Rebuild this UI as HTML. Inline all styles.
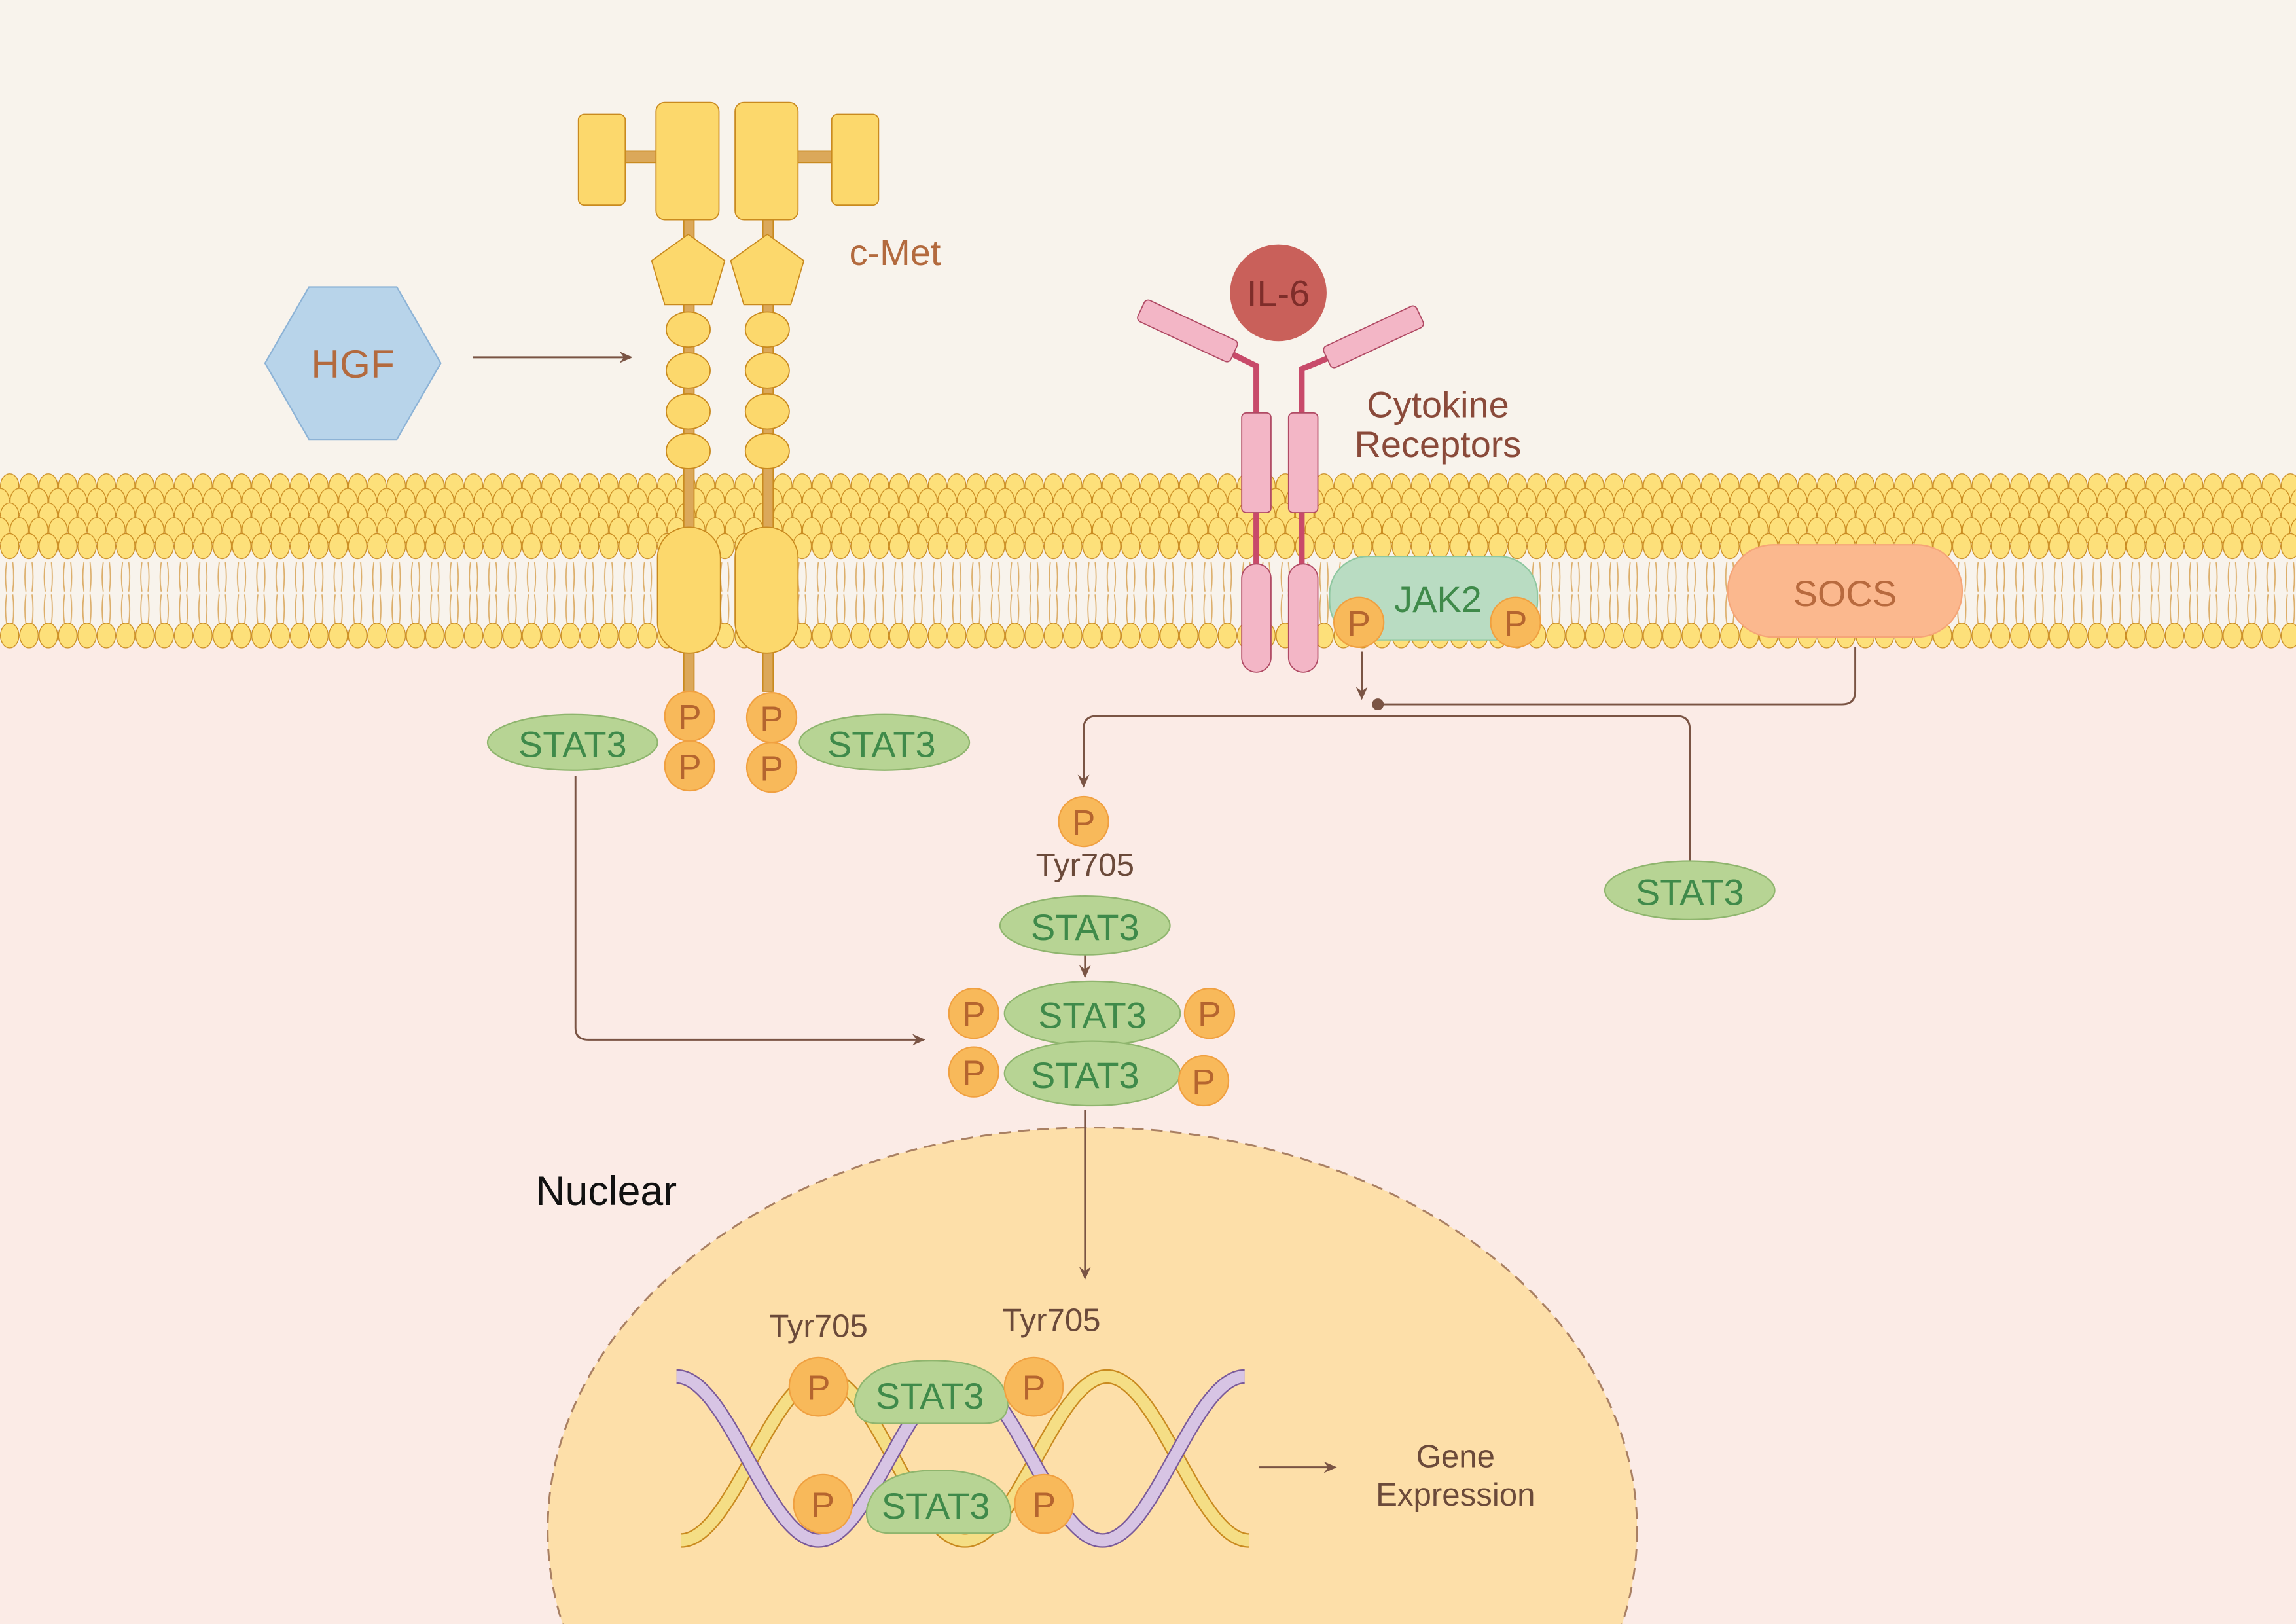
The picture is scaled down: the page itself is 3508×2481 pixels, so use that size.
<!DOCTYPE html>
<html><head><meta charset="utf-8"><style>
html,body{margin:0;padding:0;width:3508px;height:2481px;overflow:hidden;background:#f8f3ec}
svg{display:block}
text{font-family:"Liberation Sans",sans-serif}
</style></head><body>
<svg width="3508" height="2481" viewBox="0 0 1568 1109" preserveAspectRatio="none" xmlns="http://www.w3.org/2000/svg">
<defs>
<pattern id="r1" x="0" y="322" width="13.2" height="20" patternUnits="userSpaceOnUse"><ellipse cx="6.6" cy="10" rx="6.3" ry="8.5" fill="#fde07a" stroke="#c98a1f" stroke-width="0.6"/></pattern>
<pattern id="r2" x="6.6" y="332" width="13.2" height="20" patternUnits="userSpaceOnUse"><ellipse cx="6.6" cy="10" rx="6.3" ry="8.5" fill="#fde07a" stroke="#c98a1f" stroke-width="0.6"/></pattern>
<pattern id="r3" x="0" y="342" width="13.2" height="20" patternUnits="userSpaceOnUse"><ellipse cx="6.6" cy="10" rx="6.3" ry="8.5" fill="#fde07a" stroke="#c98a1f" stroke-width="0.6"/></pattern>
<pattern id="r4" x="6.6" y="352" width="13.2" height="20" patternUnits="userSpaceOnUse"><ellipse cx="6.6" cy="10" rx="6.3" ry="8.5" fill="#fde07a" stroke="#c98a1f" stroke-width="0.6"/></pattern>
<pattern id="r5" x="0" y="363" width="13.2" height="20" patternUnits="userSpaceOnUse"><ellipse cx="6.6" cy="10" rx="6.3" ry="8.5" fill="#fde07a" stroke="#c98a1f" stroke-width="0.6"/></pattern>
<pattern id="r6" x="0" y="424" width="13.2" height="20" patternUnits="userSpaceOnUse"><ellipse cx="6.6" cy="10" rx="6.3" ry="8.5" fill="#fde07a" stroke="#c98a1f" stroke-width="0.6"/></pattern>
<pattern id="tl" x="0" y="384" width="13.2" height="42" patternUnits="userSpaceOnUse"><path d="M4.5,0 Q3,10 4.5,20 M8.7,0 Q10,10 8.7,20 M4.5,22 Q3,32 4.5,42 M8.7,22 Q10,32 8.7,42" stroke="#dcae6a" stroke-width="0.8" fill="none"/></pattern>
<marker id="ar" markerWidth="10" markerHeight="10" refX="8" refY="5" orient="auto" markerUnits="userSpaceOnUse"><path d="M0,1 L9,5 L0,9 L3,5z" fill="#7a5444"/></marker>
</defs>
<rect x="0" y="0" width="1568" height="440" fill="#f8f3ec"/>
<rect x="0" y="440" width="1568" height="669" fill="#fbebe6"/>
<!-- membrane -->
<rect x="0" y="384" width="1568" height="42" fill="url(#tl)"/>
<rect x="0" y="322" width="1568" height="20" fill="url(#r1)"/>
<rect x="0" y="332" width="1568" height="20" fill="url(#r2)"/>
<rect x="0" y="342" width="1568" height="20" fill="url(#r3)"/>
<rect x="0" y="352" width="1568" height="20" fill="url(#r4)"/>
<rect x="0" y="363" width="1568" height="20" fill="url(#r5)"/>
<rect x="0" y="424" width="1568" height="20" fill="url(#r6)"/>
<!-- nucleus -->
<ellipse cx="746" cy="1045" rx="372" ry="275" fill="#fddfa9" stroke="#a98063" stroke-width="1.3" stroke-dasharray="8,5"/>
<text x="414" y="823" font-size="28" text-anchor="middle" fill="#111">Nuclear</text>
<!-- c-Met -->
<g stroke="#c98a1f" stroke-width="0.8">
<rect x="467" y="140" width="7" height="332" fill="#dba85a"/>
<rect x="521" y="140" width="7" height="332" fill="#dba85a"/>
<rect x="420" y="103" width="40" height="8" fill="#dba85a"/>
<rect x="535" y="103" width="40" height="8" fill="#dba85a"/>
<rect x="395" y="78" width="32" height="62" rx="4" fill="#fcd86c"/>
<rect x="568" y="78" width="32" height="62" rx="4" fill="#fcd86c"/>
<rect x="448" y="70" width="43" height="80" rx="6" fill="#fcd86c"/>
<rect x="502" y="70" width="43" height="80" rx="6" fill="#fcd86c"/>
<polygon points="470,160 495,178 486,208 454,208 445,178" fill="#fcd86c"/>
<polygon points="524,160 549,178 540,208 508,208 499,178" fill="#fcd86c"/>
<ellipse cx="470" cy="225" rx="15" ry="12" fill="#fcd86c"/><ellipse cx="524" cy="225" rx="15" ry="12" fill="#fcd86c"/>
<ellipse cx="470" cy="253" rx="15" ry="12" fill="#fcd86c"/><ellipse cx="524" cy="253" rx="15" ry="12" fill="#fcd86c"/>
<ellipse cx="470" cy="281" rx="15" ry="12" fill="#fcd86c"/><ellipse cx="524" cy="281" rx="15" ry="12" fill="#fcd86c"/>
<ellipse cx="470" cy="308" rx="15" ry="12" fill="#fcd86c"/><ellipse cx="524" cy="308" rx="15" ry="12" fill="#fcd86c"/>
<rect x="449" y="360" width="43" height="86" rx="21" fill="#fcd86c"/>
<rect x="502" y="360" width="43" height="86" rx="21" fill="#fcd86c"/>
</g>
<text x="580" y="181" font-size="25" fill="#b36a3e">c-Met</text>
<polygon points="211,196 271,196 301,248 271,300 211,300 181,248" fill="#b8d4ea" stroke="#8db3d6"/>
<text x="241" y="258" font-size="27" text-anchor="middle" fill="#b36a3e">HGF</text>
<line x1="323" y1="244" x2="431" y2="244" stroke="#7a5444" stroke-width="1.3" marker-end="url(#ar)"/>
<!-- IL-6 receptor -->
<g stroke="#b04a64" stroke-width="0.8">
<path d="M830,236 L858,250 L858,290" stroke="#c84a6a" stroke-width="4" fill="none"/>
<path d="M918,240 L889,252 L889,290" stroke="#c84a6a" stroke-width="4" fill="none"/>
<line x1="858" y1="345" x2="858" y2="390" stroke="#c84a6a" stroke-width="4"/>
<line x1="889" y1="345" x2="889" y2="390" stroke="#c84a6a" stroke-width="4"/>
<rect x="776" y="218" width="70" height="16" rx="3" fill="#f3b6c6" transform="rotate(25 811 226)"/>
<rect x="903" y="222" width="70" height="16" rx="3" fill="#f3b6c6" transform="rotate(-25 938 230)"/>
<rect x="848" y="282" width="20" height="68" rx="3" fill="#f3b6c6"/>
<rect x="880" y="282" width="20" height="68" rx="3" fill="#f3b6c6"/>
<rect x="848" y="385" width="20" height="74" rx="10" fill="#f3b6c6"/>
<rect x="880" y="385" width="20" height="74" rx="10" fill="#f3b6c6"/>
</g>
<circle cx="873" cy="200" r="33" fill="#c9605a"/>
<text x="873" y="209" font-size="25" text-anchor="middle" fill="#7e2d2a">IL-6</text>
<text x="982" y="285" font-size="25" text-anchor="middle" fill="#8a4a3a">Cytokine</text>
<text x="982" y="312" font-size="25" text-anchor="middle" fill="#8a4a3a">Receptors</text>
<rect x="908" y="380" width="142" height="57" rx="26" fill="#b9dcc2" stroke="#8fc7a0"/>
<text x="982" y="418" font-size="25" text-anchor="middle" fill="#3f8a4a">JAK2</text>
<rect x="1180" y="372" width="160" height="63" rx="31" fill="#fbb88e" stroke="#f5a578"/>
<text x="1260" y="414" font-size="25" text-anchor="middle" fill="#b86a3e">SOCS</text>
<!-- connectors -->
<g stroke="#7a5444" stroke-width="1.3" fill="none">
<line x1="930" y1="445" x2="930" y2="477" marker-end="url(#ar)"/>
<path d="M1267,442 L1267,472 Q1267,481 1258,481 L941,481"/>
<path d="M1154,598 L1154,498 Q1154,489 1145,489 L749,489 Q740,489 740,498 L740,537" marker-end="url(#ar)"/>
<line x1="741" y1="650" x2="741" y2="667" marker-end="url(#ar)"/>
<path d="M393,530 L393,702 Q393,710 402,710 L631,710" marker-end="url(#ar)"/>
<line x1="741" y1="758" x2="741" y2="873" marker-end="url(#ar)"/>
<line x1="860" y1="1002" x2="912" y2="1002" marker-end="url(#ar)"/>
</g>
<circle cx="941" cy="481" r="4" fill="#7a5444"/>
<!-- DNA -->
<path d="M465,1052 C500,1052 527,940 562,940 C597,940 624,1052 659,1052 C694,1052 721,940 756,940 C791,940 818,1052 853,1052" stroke="#c98a1f" stroke-width="10" fill="none"/>
<path d="M465,1052 C500,1052 527,940 562,940 C597,940 624,1052 659,1052 C694,1052 721,940 756,940 C791,940 818,1052 853,1052" stroke="#f5de85" stroke-width="8" fill="none"/>
<path d="M462,940 C497,940 524,1052 559,1052 C594,1052 621,940 656,940 C691,940 718,1052 753,1052 C788,1052 815,940 850,940" stroke="#7a5a9a" stroke-width="10" fill="none"/>
<path d="M462,940 C497,940 524,1052 559,1052 C594,1052 621,940 656,940 C691,940 718,1052 753,1052 C788,1052 815,940 850,940" stroke="#d7c4e4" stroke-width="8" fill="none"/>
<text x="994" y="1002" font-size="22" text-anchor="middle" fill="#6b4a3a">Gene</text>
<text x="994" y="1028" font-size="22" text-anchor="middle" fill="#6b4a3a">Expression</text>
<!-- STAT3s -->
<g fill="#b7d494" stroke="#8fb56e">
<ellipse cx="391" cy="507" rx="58" ry="19"/>
<ellipse cx="604" cy="507" rx="58" ry="19"/>
<ellipse cx="741" cy="632" rx="58" ry="20"/>
<ellipse cx="746" cy="692" rx="60" ry="22"/>
<ellipse cx="746" cy="733" rx="60" ry="22"/>
<ellipse cx="1154" cy="608" rx="58" ry="20"/>
<path d="M600,972 Q582,972 584,955 Q590,929 636,929 Q682,929 688,955 Q690,972 672,972 Z"/>
<path d="M608,1047 Q590,1047 592,1030 Q598,1004 640,1004 Q684,1004 690,1030 Q692,1047 676,1047 Z"/>
</g>
<g font-size="25" text-anchor="middle" fill="#3f8a4a">
<text x="391" y="517">STAT3</text><text x="602" y="517">STAT3</text>
<text x="741" y="642">STAT3</text><text x="746" y="702">STAT3</text><text x="741" y="743">STAT3</text>
<text x="1154" y="618">STAT3</text><text x="635" y="962">STAT3</text><text x="639" y="1037">STAT3</text>
</g>
<text x="741" y="598" font-size="22" text-anchor="middle" fill="#6b4a3a">Tyr705</text>
<text x="559" y="913" font-size="22" text-anchor="middle" fill="#6b4a3a">Tyr705</text>
<text x="718" y="909" font-size="22" text-anchor="middle" fill="#6b4a3a">Tyr705</text>
<!-- P circles -->
<g fill="#f8b95a" stroke="#f0a040" stroke-width="1">
<circle cx="471" cy="489" r="17"/><circle cx="471" cy="523" r="17"/><circle cx="527" cy="490" r="17"/><circle cx="527" cy="524" r="17"/>
<circle cx="928" cy="425" r="17"/><circle cx="1035" cy="425" r="17"/>
<circle cx="740" cy="561" r="17"/>
<circle cx="665" cy="692" r="17"/><circle cx="826" cy="692" r="17"/><circle cx="665" cy="732" r="17"/><circle cx="822" cy="738" r="17"/>
<ellipse cx="559" cy="947" rx="20" ry="20"/><ellipse cx="706" cy="947" rx="20" ry="20"/><ellipse cx="562" cy="1027" rx="20" ry="20"/><ellipse cx="713" cy="1027" rx="20" ry="20"/>
</g>
<g font-size="24" text-anchor="middle" fill="#b5652f">
<text x="471" y="498">P</text><text x="471" y="532">P</text><text x="527" y="499">P</text><text x="527" y="533">P</text>
<text x="928" y="434">P</text><text x="1035" y="434">P</text><text x="740" y="570">P</text>
<text x="665" y="701">P</text><text x="826" y="701">P</text><text x="665" y="741">P</text><text x="822" y="747">P</text>
<text x="559" y="956">P</text><text x="706" y="956">P</text><text x="562" y="1036">P</text><text x="713" y="1036">P</text>
</g>
</svg>
</body></html>
